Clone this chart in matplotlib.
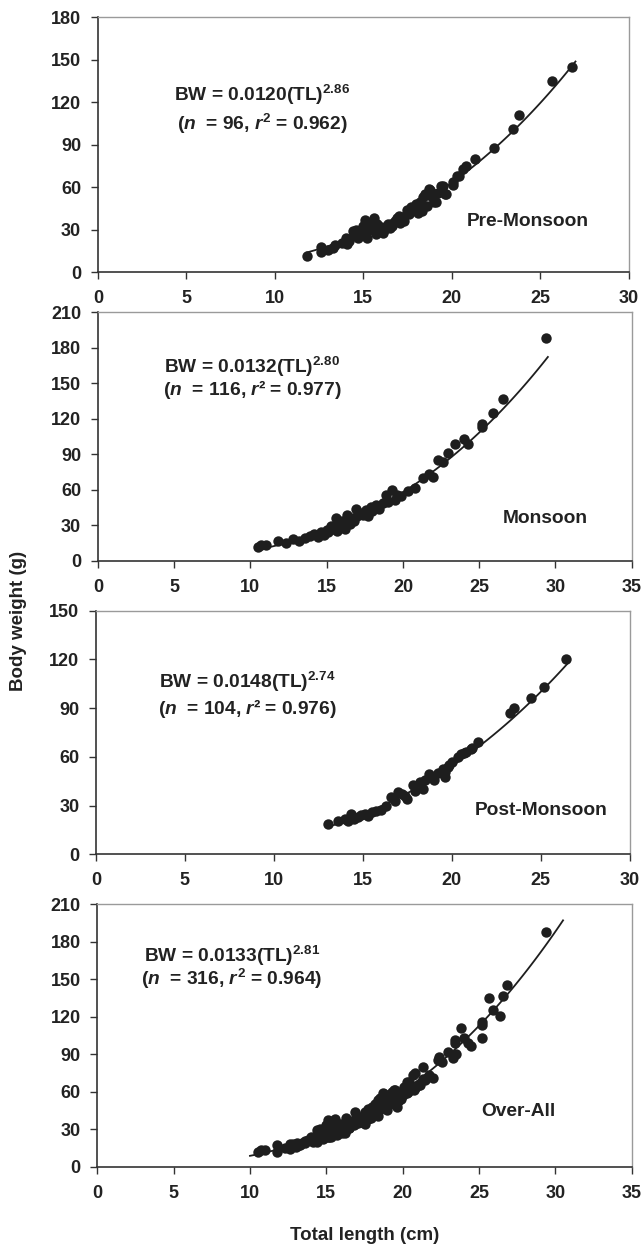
import matplotlib.pyplot as plt
import numpy as np

plt.rcParams['font.family'] = ['Liberation Sans', 'DejaVu Sans']
plt.rcParams['font.weight'] = 'bold'
plt.rcParams['mathtext.fontset'] = 'custom'
plt.rcParams['mathtext.rm'] = 'Liberation Sans:bold'
plt.rcParams['mathtext.it'] = 'Liberation Sans:italic:bold'
plt.rcParams['mathtext.bf'] = 'Liberation Sans:bold'

# ---- data (TL in cm, BW in g) ----
pre_tl = [11.8, 12.6, 12.6, 13.0, 13.3, 13.4, 13.8, 14.0, 14.1, 14.2, 14.4, 14.5, 14.6,
          14.7, 14.9, 15.0, 15.1, 15.2, 15.3, 15.4, 15.5, 15.6, 15.7, 15.8, 15.9, 16.0,
          16.1, 16.2, 16.4, 16.5, 16.6, 16.8, 16.9, 17.0, 17.1, 17.2, 17.3, 17.5, 17.6,
          17.7, 17.8, 18.0, 18.1, 18.2, 18.3, 18.4, 18.5, 18.6, 18.7, 18.8, 18.9, 18.9,
          19.0, 19.1, 19.2, 19.4, 19.5, 19.6, 19.7, 20.1, 20.1, 20.3, 20.4, 20.65, 20.8,
          21.3, 22.4, 23.45, 23.8, 25.65, 26.8]
pre_bw = [11.5, 14.4, 18, 16, 17, 19, 21, 24, 20, 22, 29, 26, 30,
          24, 27, 33, 37, 24, 30, 35, 31, 38, 27, 34, 29, 32,
          28, 30, 34, 31, 33, 36, 38, 40, 35, 39, 36, 44, 41,
          46, 45, 48, 42, 50, 43, 53, 55, 47, 59, 58, 53, 56,
          50, 50, 56, 61, 61, 55, 55, 62, 64, 68, 68, 73, 75,
          80, 88, 101, 111, 135, 145]

mon_tl = [10.5, 10.7, 11.0, 11.8, 12.3, 12.8, 13.2, 13.6, 13.9, 14.2, 14.4, 14.6, 14.8,
          15.0, 15.1, 15.3, 15.4, 15.5, 15.6, 15.7, 15.8, 15.9, 16.0, 16.1, 16.2, 16.3,
          16.4, 16.5, 16.6, 16.8, 16.9, 17.0, 17.2, 17.4, 17.6, 17.7, 17.9, 18.0, 18.25,
          18.4, 18.7, 18.9, 19.0, 19.3, 19.45, 19.6, 19.9, 20.3, 20.76, 21.3, 21.7, 21.97,
          22.3, 22.6, 22.95, 23.4, 24.0, 24.25, 25.2, 25.2, 25.9, 26.55, 29.4]
mon_bw = [12, 13, 13, 17, 15, 18, 17, 19, 21, 23, 20, 24, 22,
          26, 24, 29, 27, 29, 36, 25, 31, 28, 34, 32, 27, 39,
          35, 31, 36, 34, 43.7, 38, 40, 39, 43.2, 38, 45.4, 42, 47.4,
          44, 48.8, 55.8, 50, 60, 51.6, 56, 54.4, 58.6, 61.4, 69.8, 73.5, 71.2,
          85.2, 83.8, 91.4, 98.7, 102.6, 98.7, 115.5, 113, 125, 136.5, 188]

post_tl = [13.05, 13.6, 13.98, 14.16, 14.35, 14.5, 14.7, 14.9, 15.1, 15.3, 15.5, 15.75,
           16.0, 16.3, 16.6, 16.8, 16.96, 17.2, 17.35, 17.5, 17.8, 17.9, 18.2, 18.36,
           18.5, 18.7, 18.75, 19.0, 19.2, 19.5, 19.6, 19.6, 19.77, 19.85, 20.0, 20.33,
           20.5, 20.7, 20.8, 21.1, 21.15, 21.48, 23.27, 23.5, 24.46, 25.17, 26.4]
post_bw = [18.6, 20.7, 21.7, 20.7, 24.8, 22, 22.8, 24, 24.8, 23.5, 25.9, 26.9,
           27, 29.6, 35.2, 33, 38.3, 37.2, 36, 34.1, 42.4, 39, 44.5, 40.3,
           46, 49.7, 48, 45.5, 50, 52.8, 47.6, 50.7, 53.6, 54.8, 57, 60,
           62, 62.5, 63.1, 65, 65.2, 69.1, 87.3, 90.4, 96.4, 102.8, 120.4]

# over-all = all three seasons pooled
all_tl = pre_tl + mon_tl + post_tl
all_bw = pre_bw + mon_bw + post_bw

# fitted length-weight relations BW = a * TL^b
fit_a = [0.0120, 0.0132, 0.0148, 0.0133]
fit_b = [2.86, 2.80, 2.74, 2.81]
fit_range = [(11.8, 27.0), (10.5, 29.5), (13.0, 26.5), (10.0, 30.5)]

eq_lines = ['BW = 0.0120(TL)$^{2.86}$', 'BW = 0.0132(TL)$^{2.80}$',
            'BW = 0.0148(TL)$^{2.74}$', 'BW = 0.0133(TL)$^{2.81}$']
stat_lines = ['($n$  = 96, $r^{2}$ = 0.962)', '($n$  = 116, $r$\u00b2 = 0.977)',
              '($n$  = 104, $r$\u00b2 = 0.976)', '($n$  = 316, $r^{2}$ = 0.964)']
season = ['Pre-Monsoon', 'Monsoon', 'Post-Monsoon', 'Over-All']

xmax = [30, 35, 30, 35]
ymax = [180, 210, 150, 210]

# text anchors (data coords)
eq_pos = [(9.3, 125, 105), (10.1, 164, 145), (8.5, 106, 90), (8.8, 169, 150)]
season_pos = [(24.3, 36), (29.3, 36), (25.0, 27), (27.6, 44)]

# axes boxes in figure fraction [left, bottom, width, height]
boxes = [[0.152, 0.782, 0.824, 0.204],
         [0.152, 0.551, 0.829, 0.199],
         [0.149, 0.316, 0.829, 0.195],
         [0.151, 0.066, 0.830, 0.210]]

data = [(pre_tl, pre_bw), (mon_tl, mon_bw), (post_tl, post_bw), (all_tl, all_bw)]

ink = '#1e1e1e'
txt = '#222222'
fig = plt.figure(figsize=(6.44, 12.49), dpi=100)

for i in range(4):
    ax = fig.add_axes(boxes[i])
    tl, bw = data[i]
    ax.plot(tl, bw, 'o', color=ink, markersize=7.5, markeredgewidth=0, zorder=3)
    lo, hi = fit_range[i]
    xs = np.linspace(lo, hi, 100)
    ax.plot(xs, fit_a[i] * xs ** fit_b[i], color=ink, lw=1.3, zorder=2)

    ax.set_xlim(0, xmax[i])
    ax.set_ylim(0, ymax[i])
    ax.set_xticks(range(0, xmax[i] + 1, 5))
    ax.set_yticks(range(0, ymax[i] + 1, 30))
    ax.tick_params(direction='out', length=5, width=1, colors='#333333',
                   labelsize=13, labelcolor=txt)
    ax.tick_params(axis='x', pad=8)
    ax.tick_params(axis='y', pad=7)
    for s in ['top', 'right']:
        ax.spines[s].set_color('#9a9a9a')
        ax.spines[s].set_linewidth(1)
    for s in ['left', 'bottom']:
        ax.spines[s].set_color('#333333')
        ax.spines[s].set_linewidth(1.2)

    ex, ey1, ey2 = eq_pos[i]
    ax.text(ex, ey1, eq_lines[i], ha='center', va='center', fontsize=13.8,
            fontweight='bold', color=txt)
    ax.text(ex, ey2, stat_lines[i], ha='center', va='center', fontsize=13.8,
            fontweight='bold', color=txt)
    sx, sy = season_pos[i]
    ax.text(sx, sy, season[i], ha='center', va='center', fontsize=13.8,
            fontweight='bold', color=txt)

fig.text(0.028, 0.503, 'Body weight (g)', rotation=90, ha='center', va='center',
         fontsize=13.5, fontweight='bold', color=txt)
fig.text(0.566, 0.0105, 'Total length (cm)', ha='center', va='center',
         fontsize=13.5, fontweight='bold', color=txt)

fig.savefig('out.png', dpi=100)
